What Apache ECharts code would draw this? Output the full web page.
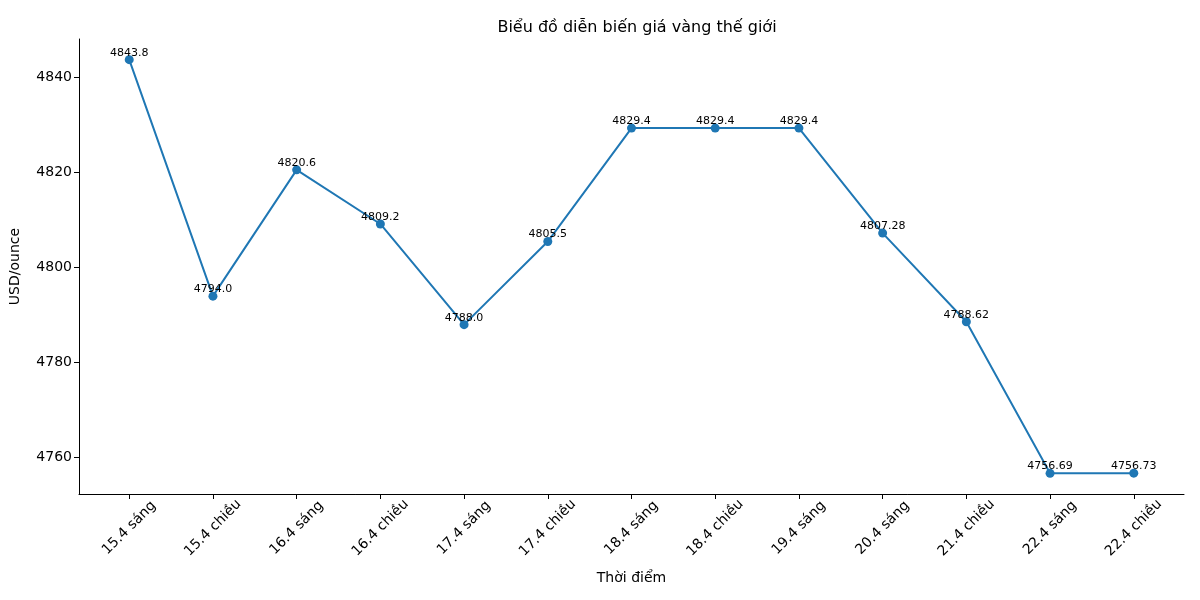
<!DOCTYPE html>
<html>
<head>
<meta charset="utf-8">
<script src="https://cdn.jsdelivr.net/npm/echarts@6/dist/echarts.min.js"></script>
<style>
  html, body { margin: 0; padding: 0; background: #fff; }
  #chart { width: 1200px; height: 600px; }
</style>
</head>
<body>
<div id="chart"></div>
<script>
var categories = ['15.4 sáng', '15.4 chiều', '16.4 sáng', '16.4 chiều', '17.4 sáng', '17.4 chiều',
  '18.4 sáng', '18.4 chiều', '19.4 sáng', '20.4 sáng', '21.4 chiều', '22.4 sáng', '22.4 chiều'];
var prices = [4843.8, 4794.0, 4820.6, 4809.2, 4788.0, 4805.5, 4829.4, 4829.4, 4829.4,
  4807.28, 4788.62, 4756.69, 4756.73];
var priceLabels = ['4843.8', '4794.0', '4820.6', '4809.2', '4788.0', '4805.5', '4829.4', '4829.4',
  '4829.4', '4807.28', '4788.62', '4756.69', '4756.73'];
var yTicks = [4760, 4780, 4800, 4820, 4840];

var font = 'DejaVu Sans';
var chart = echarts.init(document.getElementById('chart'));

// matplotlib style 5% margins
var yMin = Math.min.apply(null, prices), yMax = Math.max.apply(null, prices);
var pad = (yMax - yMin) * 0.05;
var xIdx = categories.map(function (c, i) { return i; });

var option = {
  animation: false,
  title: {
    text: 'Biểu đồ diễn biến giá vàng thế giới',
    left: 632, top: 15, textAlign: 'center',
    textStyle: { fontFamily: font, fontSize: 16, fontWeight: 'normal', color: '#000' }
  },
  grid: { left: 79, right: 16, top: 39, bottom: 106 },
  xAxis: {
    type: 'value',
    min: -0.6, max: categories.length - 1 + 0.6,
    name: 'Thời điểm', nameLocation: 'middle', nameGap: 77,
    nameTextStyle: { fontFamily: font, fontSize: 14, color: '#000' },
    axisLine: { onZero: false, lineStyle: { color: '#000', width: 1 } },
    axisTick: { show: true, length: 5, customValues: xIdx, lineStyle: { color: '#000' } },
    splitLine: { show: false },
    axisLabel: {
      customValues: xIdx,
      rotate: 45, align: 'center', verticalAlign: 'middle', margin: 34,
      fontFamily: font, fontSize: 14, color: '#000',
      formatter: function (v) { return categories[Math.round(v)]; }
    }
  },
  yAxis: {
    type: 'value',
    min: yMin - pad, max: yMax + pad,
    name: 'USD/ounce', nameLocation: 'middle', nameGap: 57,
    nameTextStyle: { fontFamily: font, fontSize: 14, color: '#000' },
    axisLine: { show: true, onZero: false, lineStyle: { color: '#000', width: 1 } },
    axisTick: { show: true, length: 5, customValues: yTicks, lineStyle: { color: '#000' } },
    splitLine: { show: false },
    axisLabel: {
      customValues: yTicks, margin: 7,
      fontFamily: font, fontSize: 14, color: '#000',
      formatter: function (v) { return String(v); }
    }
  },
  series: [{
    type: 'line',
    data: prices.map(function (p, i) { return [i, p]; }),
    symbol: 'circle', symbolSize: 9,
    itemStyle: { color: '#1f77b4' },
    lineStyle: { color: '#1f77b4', width: 2 },
    label: {
      show: true, position: 'top', distance: -3,
      fontFamily: font, fontSize: 11, color: '#000',
      formatter: function (p) { return priceLabels[p.dataIndex]; }
    }
  }]
};

chart.setOption(option);
</script>
</body>
</html>
